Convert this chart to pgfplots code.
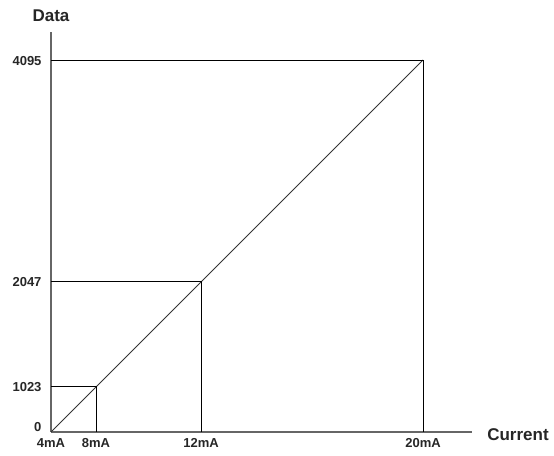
\documentclass[border=0pt]{standalone}
\usepackage{pgfplots}
\pgfplotsset{compat=1.18}
\usepackage{fontspec}
\setmainfont{Liberation Sans}
\begin{document}
\begin{tikzpicture}[x=1bp,y=1bp]
\path[use as bounding box] (-51,-24) rectangle (503,432);
\begin{axis}[
  anchor=origin, at={(0,0)},
  scale only axis, width=421bp, height=400bp,
  xmin=0, xmax=421, ymin=0, ymax=400,
  axis x line=bottom, axis y line=left,
  axis line style={-, draw=black!60, line width=1.4bp},
  xtick={0,45,150,372}, xticklabels={4mA,8mA,12mA,20mA},
  ytick={46,151,372}, yticklabels={1023,2047,4095},
  extra y ticks={0}, extra y tick labels={0},
  extra y tick style={yticklabel style={yshift=6bp}},
  major tick length=0pt,
  tick label style={font=\fontsize{13bp}{15bp}\selectfont\bfseries, text=black!85},
  xticklabel style={yshift=-3bp},
  yticklabel style={xshift=-6bp, yshift=-1bp},
  /pgf/number format/assume math mode=true,
  clip=false,
]
\addplot[black!80, line width=1bp] coordinates {(0,0) (372,372)};
\addplot[black, line width=0.9bp] coordinates {(45,0) (45,46) (0,46)};
\addplot[black, line width=0.9bp] coordinates {(150,0) (150,151) (0,151)};
\addplot[black, line width=0.9bp] coordinates {(372,0) (372,372) (0,372)};
\end{axis}
\node[font=\fontsize{17bp}{19bp}\selectfont\bfseries, text=black!85] at (0,416) {Data};
\node[font=\fontsize{17bp}{19bp}\selectfont\bfseries, text=black!85] at (467,-3) {Current};
\end{tikzpicture}
\end{document}
